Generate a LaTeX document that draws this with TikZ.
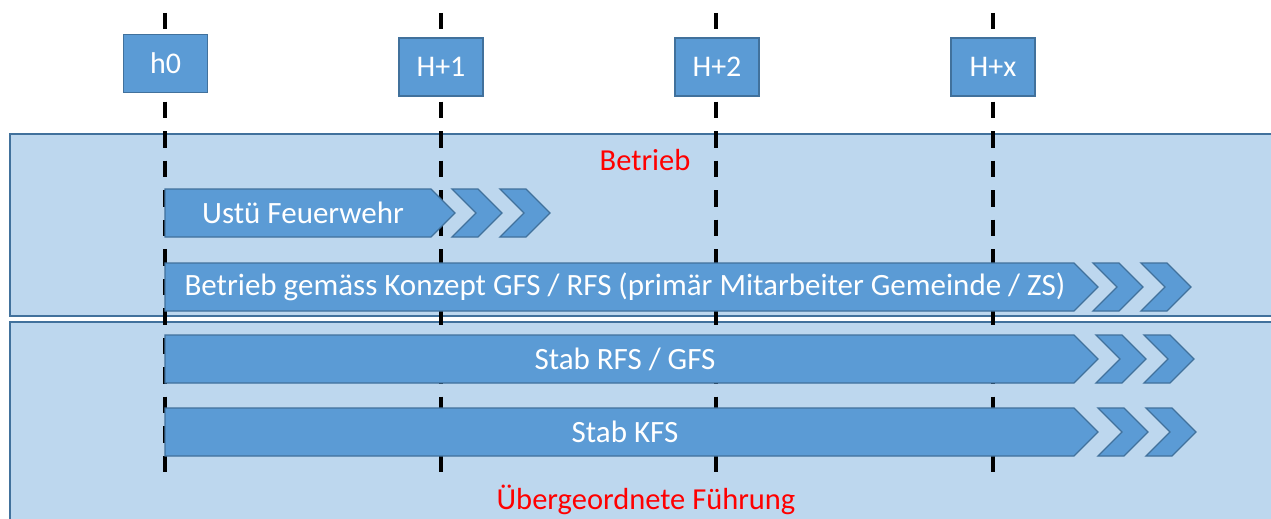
\documentclass[tikz,border=0pt]{standalone}
\usepackage{fontspec}
\setmainfont{Carlito}
\usepackage{tikz}

\definecolor{barblue}{HTML}{5B9BD5}
\definecolor{lineblue}{HTML}{41719C}
\definecolor{panelblue}{HTML}{BDD7EE}

% one arrow bar: left x, tip x, top y
\newcommand{\phasebar}[3]{%
  \draw[bar] (#1,#3) -- (#2-24,#3) -- (#2,#3+24) -- (#2-24,#3+48) -- (#1,#3+48) -- cycle;}
% one chevron: left x, top y
\newcommand{\chevron}[2]{%
  \draw[bar] (#1,#2) -- (#1+26,#2) -- (#1+50,#2+24) -- (#1+26,#2+48) -- (#1,#2+48) -- (#1+24,#2+24) -- cycle;}

\begin{document}
\begin{tikzpicture}[x=1pt,y=-1pt]
        \tikzset{bar/.style = {fill=barblue,draw=lineblue,line width=1.3pt,line join=miter}};
        \tikzset{timebox/.style = {fill=barblue,draw=lineblue,line width=1.5pt,minimum width=84pt,minimum height=58pt,inner sep=0pt,text=white,font=\fontsize{30}{35}\selectfont}};
        \tikzset{bartext/.style = {text=white,inner sep=0pt,font=\fontsize{31}{36}\selectfont}};
        \tikzset{paneltitle/.style = {text=red,inner sep=0pt,font=\fontsize{30.5}{36}\selectfont}};
        \tikzset{timeline/.style = {line width=4pt,dash pattern=on 16.5pt off 13pt}};
        \useasboundingbox (0,0) rectangle (1271,519);
        \clip (0,0) rectangle (1271,519);
        \draw[fill=panelblue,draw=lineblue,line width=2pt] (10,134) rectangle (1290,316);
        \draw[fill=panelblue,draw=lineblue,line width=2pt] (10,322) rectangle (1290,540);
        \coordinate (t0) at (165,13);  \coordinate (b0) at (165,475);
        \coordinate (t1) at (441,13);  \coordinate (b1) at (441,475);
        \coordinate (t2) at (716,13);  \coordinate (b2) at (716,475);
        \coordinate (tx) at (993,13);  \coordinate (bx) at (993,475);
        \draw[timeline] (t0) -- (b0) (t1) -- (b1) (t2) -- (b2) (tx) -- (bx);
        \node[timebox] (h0) at (165.5,63.5) {h0};
        \node[timebox] (h1) at (441,67) {H+1};
        \node[timebox] (h2) at (717,67) {H+2};
        \node[timebox] (hx) at (993,67) {H+x};
        \node[paneltitle] (betrieb) at (645,160) {Betrieb};
        \node[paneltitle] (fuehrung) at (646,500) {Übergeordnete Führung};
        \phasebar{165}{455}{189}
        \chevron{452}{189}
        \chevron{500}{189}
        \node[bartext] (ustue) at (303,213) {Ustü Feuerwehr};
        \phasebar{165}{1098}{263}
        \chevron{1093}{263}
        \chevron{1141}{263}
        \node[bartext] (konzept) at (625,287) {Betrieb gemäss Konzept GFS / RFS (primär Mitarbeiter Gemeinde / ZS)};
        \phasebar{165}{1098}{335}
        \chevron{1096}{335}
        \chevron{1144}{335}
        \node[bartext] (stabrfs) at (625,359) {Stab RFS / GFS};
        \phasebar{165}{1098}{408}
        \chevron{1098}{408}
        \chevron{1146}{408}
        \node[bartext] (stabkfs) at (625,432) {Stab KFS};
    \end{tikzpicture}
\end{document}
